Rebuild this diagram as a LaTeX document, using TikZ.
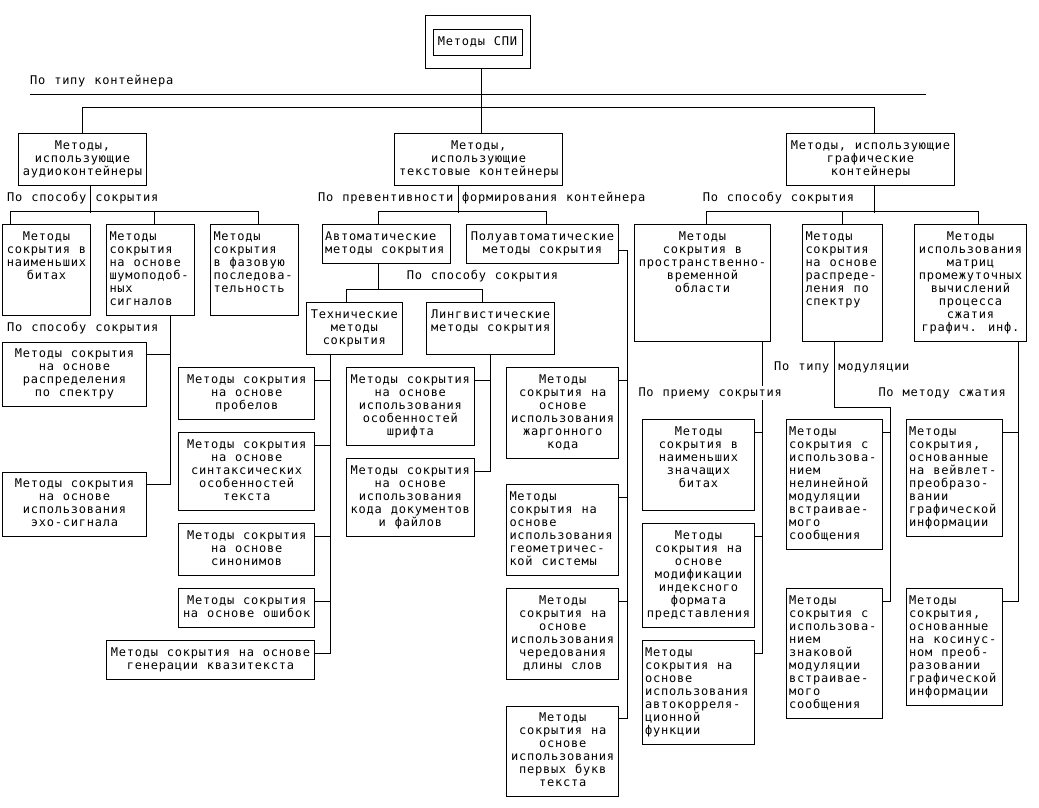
\documentclass[tikz,border=0pt]{standalone}
\usepackage{fontspec}
\setmainfont{DejaVu Sans Mono}[LetterSpace=6.4, WordSpace=1.107]
\usetikzlibrary{fit}
\tikzset{
  bx/.style={draw, line width=1pt, inner sep=0pt, font=\fontsize{12pt}{13pt}\selectfont},
  lbl/.style={anchor=base west, inner sep=0pt, font=\fontsize{12pt}{13pt}\selectfont},
  lblw/.style={lbl, fill=white, inner ysep=1.5pt},
  conn/.style={line width=1pt},
}
\newcommand\lft{\raggedright\leftskip=3pt\relax}
\newcommand\cnt{\centering}
\newcommand\bxn[7]{\node[bx,anchor=north west] (#1) at (#2,#3) {\parbox[c][\dimexpr #5pt-#3pt\relax][t]{\dimexpr #4pt-#2pt\relax}{\lineskiplimit=-100pt\relax #6\rule{0pt}{15.7pt}#7\par}};}
\begin{document}
\begin{tikzpicture}[x=1pt,y=-1pt]
\useasboundingbox (0,0) rectangle (1039,807);
% root
\node[bx, minimum width=89pt, minimum height=26pt] (rootin) at (477.5,42.3) {Методы СПИ};
\node[draw, line width=1pt, fit=(rootin), inner xsep=7.5pt, inner ysep=13pt] (root) {};
% level 1
\bxn{au}{18}{133.3}{146}{185}{\cnt}{Методы,\\использующие\\аудиоконтейнеры}
\bxn{tx}{394}{133.3}{562.3}{185}{\cnt}{Методы,\\использующие\\текстовые контейнеры}
\bxn{gr}{785.7}{133.3}{954.3}{185}{\cnt}{Методы, использующие\\графические\\контейнеры}
% audio
\bxn{a1}{2}{224.3}{90}{315}{\cnt}{Методы\\сокрытия в\\наименьших\\битах}
\bxn{a2}{106}{224.3}{194}{315}{\lft}{Методы\\сокрытия\\на основе\\шумоподоб-\\ных\\сигналов}
\bxn{a3}{210}{224.3}{298}{315}{\lft}{Методы\\сокрытия\\в фазовую\\последова-\\тельность}
\bxn{a4}{2}{341.7}{146}{406}{\cnt}{Методы сокрытия\\на основе\\распределения\\по спектру}
\bxn{a5}{2}{471.7}{146}{536}{\cnt}{Методы сокрытия\\на основе\\использования\\эхо-сигнала}
% text
\bxn{auto}{321.7}{224.3}{450}{263.3}{\lft}{Автоматические\\методы сокрытия}
\bxn{semi}{465.7}{224.3}{618.3}{263.3}{\cnt}{Полуавтоматические\\методы сокрытия}
\bxn{tech}{306}{302.3}{401.7}{354.3}{\cnt}{Технические\\методы\\сокрытия}
\bxn{ling}{426}{302.3}{554.3}{354.3}{\cnt}{Лингвистические\\методы сокрытия}
\bxn{t1}{178.3}{367.3}{314}{419.3}{\cnt}{Методы сокрытия\\на основе\\пробелов}
\bxn{t2}{178.3}{432.3}{314}{510.3}{\cnt}{Методы сокрытия\\на основе\\синтаксических\\особенностей\\текста}
\bxn{t3}{178.3}{523.3}{314}{575}{\cnt}{Методы сокрытия\\на основе\\синонимов}
\bxn{t4}{178.3}{588.3}{314}{627.3}{\cnt}{Методы сокрытия\\на основе ошибок}
\bxn{t5}{106}{640.3}{314}{679.3}{\cnt}{Методы сокрытия на основе\\генерации квазитекста}
\bxn{l1}{345.7}{367.3}{474}{445}{\cnt}{Методы сокрытия\\на основе\\использования\\особенностей\\шрифта}
\bxn{l2}{345.7}{458.3}{474}{536}{\cnt}{Методы сокрытия\\на основе\\использования\\кода документов\\и файлов}
\bxn{s1}{506}{367.3}{618.3}{458.3}{\cnt}{Методы\\сокрытия на\\основе\\использования\\жаргонного\\кода}
\bxn{s2}{506}{484.3}{618.3}{575}{\lft}{Методы\\сокрытия на\\основе\\использования\\геометричес-\\кой системы}
\bxn{s3}{506}{588.3}{618.3}{679.3}{\cnt}{Методы\\сокрытия на\\основе\\использования\\чередования\\длины слов}
\bxn{s4}{506}{705.7}{618.3}{796.3}{\cnt}{Методы\\сокрытия на\\основе\\использования\\первых букв\\текста}
% graphic
\bxn{g1}{634}{224.3}{770}{341}{\cnt}{Методы\\сокрытия в\\пространственно-\\временной\\области}
\bxn{g2}{802}{224.3}{882.3}{341}{\lft}{Методы\\сокрытия\\на основе\\распреде-\\ления по\\спектру}
\bxn{g3}{913.7}{224.3}{1026.3}{341}{\cnt}{Методы\\использования\\матриц\\промежуточных\\вычислений\\процесса\\сжатия\\графич. инф.}
\bxn{b1}{641.7}{419.3}{754.3}{510.3}{\cnt}{Методы\\сокрытия в\\наименьших\\значащих\\битах}
\bxn{b2}{641.7}{523.3}{754.3}{627.3}{\cnt}{Методы\\сокрытия на\\основе\\модификации\\индексного\\формата\\представления}
\bxn{b3}{641.7}{640.3}{754.3}{744.3}{\lft}{Методы\\сокрытия на\\основе\\использования\\автокорреля-\\ционной\\функции}
\bxn{m1}{785.7}{419.3}{882.3}{549.3}{\lft}{Методы\\сокрытия с\\использова-\\нием\\нелинейной\\модуляции\\встраивае-\\мого\\сообщения}
\bxn{m2}{785.7}{588.3}{882.3}{718.3}{\lft}{Методы\\сокрытия с\\использова-\\нием\\знаковой\\модуляции\\встраивае-\\мого\\сообщения}
\bxn{w1}{905.7}{419.3}{1002}{536}{\lft}{Методы\\сокрытия,\\основанные\\на вейвлет-\\преобразо-\\вании\\графической\\информации}
\bxn{w2}{905.7}{588.3}{1002}{705.3}{\lft}{Методы\\сокрытия,\\основанные\\на косинус-\\ном преоб-\\разовании\\графической\\информации}
% separator line
\coordinate (hl1) at (30,94.3);
\coordinate (hl2) at (925.7,94.3);
\draw[conn] (hl1) -- (hl2);
% connectors: top
\draw[conn] ([xshift=4pt]root.south) -- ++(0,65);
\draw[conn] (au.north) -- ++(0,-26) -| ([xshift=4pt]gr.north);
% audio
\draw[conn] ([xshift=8pt]au.south) -- ++(0,26.7);
\draw[conn] ([xshift=8pt]a1.north west) -- ++(0,-12.6) -| ([xshift=3.7pt]a3.north);
\draw[conn] ([xshift=4pt]a2.north) -- ++(0,-12.6);
\draw[conn] ([xshift=20pt]a2.south) |- ([yshift=-12.6pt]a5.north east);
\draw[conn] ([yshift=-12.6pt]a4.north east) -- ++(24,0);
% text
\draw[conn] ([xshift=-20.3pt]tx.south) -- ++(0,26.7);
\draw[conn] ([xshift=-7.5pt]auto.north) -- ++(0,-12.6) -| ([xshift=4pt]semi.north);
\draw[conn] ([xshift=-7.5pt]auto.south) -- ++(0,26);
\draw[conn] ([xshift=-7.8pt]tech.north) -- ++(0,-13) -| ([xshift=-8.2pt]ling.north);
\draw[conn] ([xshift=-23.8pt]tech.south) |- ([yshift=-13pt]t5.north east);
\foreach \n in {t1,t2,t3,t4} \draw[conn] ([yshift=-12.7pt]\n.north east) -- ++(16,0);
\draw[conn] (ling.south) |- ([yshift=-12.7pt]l2.north east);
\draw[conn] ([yshift=-12.7pt]l1.north east) -- ++(16,0);
\draw[conn] ([yshift=-6.2pt]semi.east) -- ++(7.7,0) |- ([yshift=-12.6pt]s4.north east);
\foreach \n in {s1,s2,s3} \draw[conn] ([yshift=-12.7pt]\n.north east) -- ++(7.7,0);
% graphic
\draw[conn] ([xshift=4pt]gr.south) -- ++(0,26.7);
\draw[conn] ([xshift=4pt]g1.north) -- ++(0,-12.6) -| ([xshift=8.3pt]g3.north);
\draw[conn] (g2.north) -- ++(0,-12.6);
\draw[conn] ([xshift=60pt]g1.south) |- ([yshift=-13pt]b3.north east);
\foreach \n in {b1,b2} \draw[conn] ([yshift=-13pt]\n.north east) -- ++(7.7,0);
\draw[conn] ([xshift=-8.5pt]g2.south) -- ++(0,65) -- ++(56.3,0) |- ([yshift=-12.7pt]m2.north east);
\draw[conn] ([yshift=-12.7pt]m1.north east) -- ++(7.7,0);
\draw[conn] ([xshift=48.3pt]g3.south) |- ([yshift=-12.7pt]w2.north east);
\draw[conn] ([yshift=-12.7pt]w1.north east) -- ++(16.3,0);
% labels
\node[lbl] (lb0) at (30,84.3) {По типу контейнера};
\node[lbl] (lb1) at (7,201) {По способу сокрытия};
\node[lbl] (lb2) at (318,201) {По превентивности формирования контейнера};
\node[lbl] (lb3) at (702.7,201) {По способу сокрытия};
\node[lbl] (lb4) at (7,331) {По способу сокрытия};
\node[lbl] (lb5) at (406.7,279.3) {По способу сокрытия};
\node[lblw] (lb6) at (638.3,396) {По приему сокрытия};
\node[lbl] (lb7) at (774,370) {По типу модуляции};
\node[lbl] (lb8) at (878.3,396) {По методу сжатия};
\end{tikzpicture}
\end{document}
